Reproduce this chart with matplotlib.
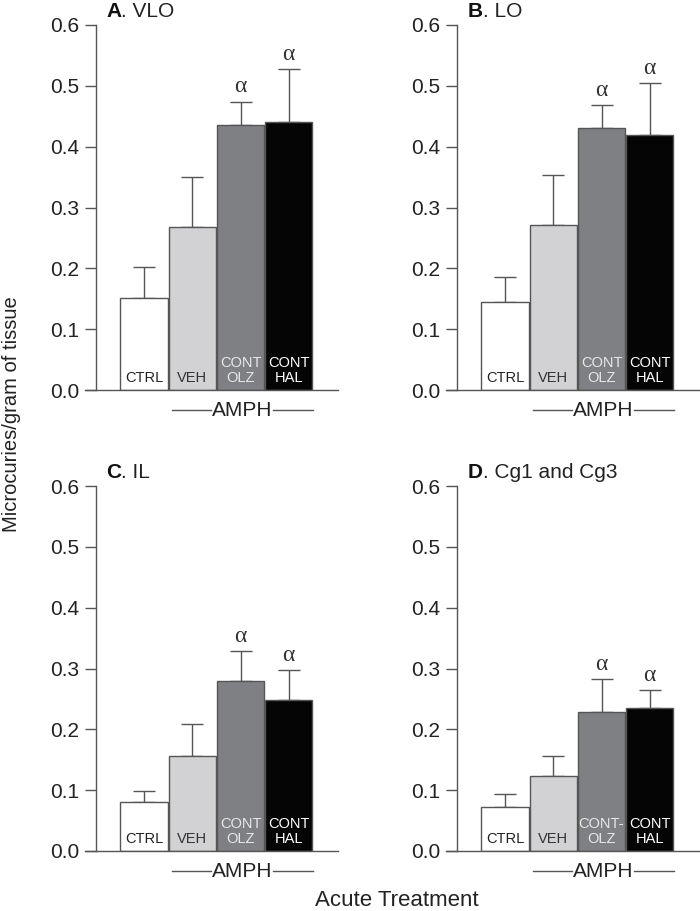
import matplotlib.pyplot as plt
import numpy as np

plt.rcParams['font.family'] = ['Liberation Sans', 'DejaVu Sans']

groups = ["CTRL", "VEH", "CONT\nOLZ", "CONT\nHAL"]
groups_d = ["CTRL", "VEH", "CONT-\nOLZ", "CONT\nHAL"]

vlo = [0.152, 0.268, 0.435, 0.440]
vlo_err = [0.051, 0.082, 0.039, 0.088]
lo = [0.145, 0.271, 0.431, 0.419]
lo_err = [0.040, 0.082, 0.038, 0.085]
il = [0.081, 0.156, 0.280, 0.248]
il_err = [0.018, 0.052, 0.048, 0.050]
cg = [0.072, 0.124, 0.228, 0.235]
cg_err = [0.021, 0.032, 0.054, 0.030]
signif = [False, False, True, True]

barColors = ["#ffffff", "#d2d2d4", "#7f8084", "#050505"]
labelColors = ["#222222", "#333333", "#e8e8e8", "#ffffff"]
lineColor = "#555555"
textColor = "#222222"

W, H = 700, 911
fig = plt.figure(figsize=(7, 9.11), dpi=100)

def px_axes(left, bottom_y0, width=253, height=365):
    # left: pixel x of axes left; bottom_y0: pixel y (from top) of zero line
    return fig.add_axes([left / W, 1 - bottom_y0 / H, width / W, height / H])

def panel(ax, vals, errs, labels, letter, name, title_x, title_y):
    x = np.arange(len(vals))
    ax.bar(x, vals, width=0.98, color=barColors, edgecolor=lineColor, linewidth=1.0, zorder=2)
    ax.errorbar(x, vals, yerr=[np.zeros(len(errs)), errs], fmt='none', ecolor=lineColor,
                elinewidth=1.0, capsize=8, capthick=1.0, zorder=1)
    for i, lab in enumerate(labels):
        ax.text(x[i], 0.008, lab, ha='center', va='bottom', fontsize=10.5,
                color=labelColors[i], linespacing=1.1, zorder=3)
        if signif[i]:
            ax.annotate("α", xy=(x[i], vals[i] + errs[i]), xytext=(0, 3),
                        textcoords='offset points', ha='center', va='bottom',
                        fontsize=17, family='Liberation Serif', color="#333333")
    ax.set_xlim(-1.225, 4.02)
    ax.set_ylim(0, 0.6)
    ax.set_yticks(np.arange(0, 0.61, 0.1))
    ax.yaxis.set_major_formatter(plt.FormatStrFormatter('%.1f'))
    ax.set_xticks([])
    ax.spines['left'].set_position(('data', -1.0))
    for s in ['top', 'right']:
        ax.spines[s].set_visible(False)
    for s in ['left', 'bottom']:
        ax.spines[s].set_color(lineColor)
        ax.spines[s].set_linewidth(1.0)
    ax.tick_params(axis='y', length=8, width=1.0, color=lineColor, pad=4,
                   labelsize=15, labelcolor=textColor)
    ax.set_facecolor('none')

    # AMPH bracket under the three treated groups
    tr = ax.get_xaxis_transform()
    ax.plot([0.58, 1.38], [-0.055, -0.055], color=lineColor, lw=1.0, transform=tr, clip_on=False)
    ax.plot([2.68, 3.5], [-0.055, -0.055], color=lineColor, lw=1.0, transform=tr, clip_on=False)
    ax.text(2.03, -0.055, "AMPH", transform=tr, ha='center', va='center', fontsize=15, color=textColor)

    t = fig.text(title_x / W, 1 - title_y / H, letter, fontsize=15, fontweight='bold',
                 va='baseline', ha='left', color="#111111")
    ax.annotate(". " + name, xy=(1, 0), xycoords=t, va='bottom', ha='left',
                fontsize=15, color=textColor)

axA = px_axes(85, 390)
panel(axA, vlo, vlo_err, groups, "A", "VLO", 106, 17)
axB = px_axes(446, 390)
panel(axB, lo, lo_err, groups, "B", "LO", 468, 17)
axC = px_axes(85, 851)
panel(axC, il, il_err, groups, "C", "IL", 106, 478)
axD = px_axes(446, 851)
panel(axD, cg, cg_err, groups_d, "D", "Cg1 and Cg3", 468, 478)

fig.text(12 / W, 1 - 414 / H, "Microcuries/gram of tissue", rotation=90, ha='center', va='center',
         fontsize=14.5, color=textColor)
fig.text(397 / W, 1 - 900 / H, "Acute Treatment", ha='center', va='center',
         fontsize=16, color=textColor)

fig.savefig("out.png", dpi=100)
